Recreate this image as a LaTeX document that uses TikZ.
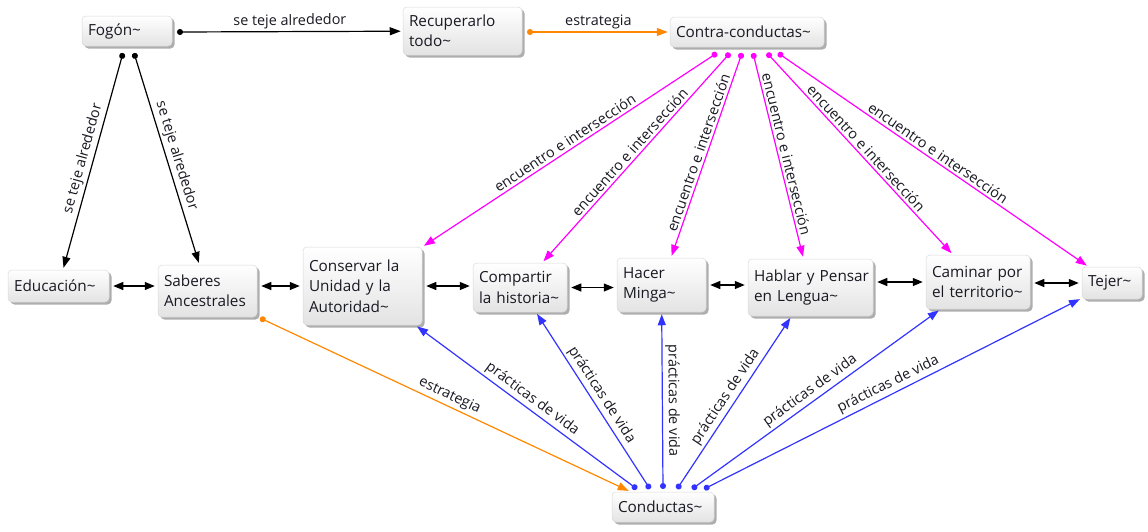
\documentclass[tikz,border=0pt]{standalone}
\usepackage{fontspec}
\setmainfont{Open Sans}
\usetikzlibrary{arrows.meta,shadows,calc}
\definecolor{cmag}{RGB}{255,0,255}
\definecolor{cblue}{RGB}{51,51,255}
\definecolor{corange}{RGB}{255,136,0}
\definecolor{ctext}{RGB}{25,25,35}
\begin{document}
\begin{tikzpicture}[x=1pt,y=1pt,
  box/.style={rectangle, rounded corners=4pt, draw=black!15, line width=0.5pt,
    top color=white, bottom color=black!11,
    drop shadow={shadow xshift=2.5pt, shadow yshift=-2.5pt, opacity=0.45, fill=black!70},
    font=\fontsize{15.3}{20.5}\selectfont, text=ctext, align=left,
    inner xsep=6pt, inner ysep=0pt},
  bx/.style n args={2}{box, text width=#1pt, minimum height=#2pt},
  lab/.style={font=\fontsize{14.4}{16}\selectfont, text=ctext, sloped, above, midway, inner sep=2.5pt},
  con/.style={line width=1.2pt, {Circle[length=6pt]}-{Triangle[length=11pt,width=8pt]}, shorten >=2pt},
  conrev/.style={line width=1.2pt, {Triangle[length=11pt,width=8pt]}-{Circle[length=6pt]}, shorten <=2pt},
  dbl/.style={line width=1.2pt, black, {Triangle[length=10pt,width=8pt]}-{Triangle[length=10pt,width=8pt]}, shorten <=4pt, shorten >=3pt}
]
\useasboundingbox (0,0) rectangle (1148,-531);

% nodes
\node[bx={78}{30}] (fogon) at (127,-31) {\mbox{Fogón\textasciitilde}};
\node[bx={107}{48}] (recup) at (462.5,-31) {\mbox{Recuperarlo}\\\mbox{todo\textasciitilde}};
\node[bx={142}{30}] (contra) at (747,-32) {\mbox{Contra-conductas\textasciitilde}};
\node[bx={89}{32}] (educ) at (58.5,-286) {\mbox{Educación\textasciitilde}};
\node[bx={87}{52}] (saberes) at (207.5,-291) {\mbox{Saberes}\\\mbox{Ancestrales}};
\node[bx={107}{78}] (conservar) at (362.5,-286) {\mbox{Conservar la}\\\mbox{Unidad y la}\\\mbox{Autoridad\textasciitilde}};
\node[bx={82}{49}] (compartir) at (520,-287.5) {\mbox{Compartir}\\\mbox{la historia\textasciitilde}};
\node[bx={77}{54}] (hacer) at (661.5,-285) {\mbox{Hacer}\\\mbox{Minga\textasciitilde}};
\node[bx={113}{57}] (hablar) at (810.5,-287.5) {\mbox{Hablar y Pensar}\\\mbox{en Lengua\textasciitilde}};
\node[bx={92}{54}] (caminar) at (978,-282) {\mbox{Caminar por}\\\mbox{el territorio\textasciitilde}};
\node[bx={48}{32}] (tejer) at (1112,-283) {\mbox{Tejer\textasciitilde}};
\node[bx={90}{30}] (conductas) at (663,-507) {\mbox{Conductas\textasciitilde}};

% connector start points
\coordinate (f0) at (177,-32);
\coordinate (f1) at (123,-53);
\coordinate (f2) at (134,-53);
\coordinate (r0) at (527,-32);
\coordinate (c1) at (717,-53);
\coordinate (c2) at (730,-53);
\coordinate (c3) at (742,-53);
\coordinate (c4) at (753,-53);
\coordinate (c5) at (767,-53);
\coordinate (c6) at (778,-53);
\coordinate (s0) at (260,-318);
\coordinate (d1) at (637,-489);
\coordinate (d2) at (650,-489);
\coordinate (d3) at (663,-489);
\coordinate (d4) at (677,-489);
\coordinate (d5) at (692,-489);
\coordinate (d6) at (704,-489);

% black
\draw[con] (f0) -- (recup) node[lab]{se teje alrededor};
\draw[con] (f1) -- (educ) node[lab]{se teje alrededor};
\draw[con] (f2) -- (saberes) node[lab]{se teje alrededor};

% orange
\draw[con, corange] (r0) -- (contra) node[lab]{estrategia};
\draw[con, corange] (s0) -- (conductas) node[lab]{estrategia};

% magenta
\draw[con, cmag] (c1) -- (conservar) node[lab]{encuentro e intersección};
\draw[con, cmag] (c2) -- (compartir) node[lab]{encuentro e intersección};
\draw[con, cmag] (c3) -- (hacer) node[lab]{encuentro e intersección};
\draw[con, cmag] (c4) -- (hablar) node[lab]{encuentro e intersección};
\draw[con, cmag] (c5) -- (caminar) node[lab]{encuentro e intersección};
\draw[con, cmag] (c6) -- (tejer) node[lab]{encuentro e intersección};

% blue
\draw[con, cblue] (d1) -- (conservar) node[lab]{prácticas de vida};
\draw[con, cblue] (d2) -- (compartir) node[lab]{prácticas de vida};
\draw[conrev, cblue] (hacer) -- (d3) node[lab]{prácticas de vida};
\draw[con, cblue] (d4) -- (hablar) node[lab]{prácticas de vida};
\draw[con, cblue] (d5) -- (caminar) node[lab]{prácticas de vida};
\draw[con, cblue] (d6) -- (tejer) node[lab]{prácticas de vida};

% row double arrows
\draw[dbl] (educ.east) -- (educ.east -| saberes.west);
\draw[dbl] (saberes.east |- conservar.west) -- (conservar.west);
\draw[dbl] (conservar.east) -- (conservar.east -| compartir.west);
\draw[dbl] (compartir.east) -- (compartir.east -| hacer.west);
\draw[dbl] (hacer.east) -- (hacer.east -| hablar.west);
\draw[dbl] (caminar.west -| hablar.east) -- (caminar.west);
\draw[dbl] (tejer.west -| caminar.east) -- (tejer.west);
\end{tikzpicture}
\end{document}
